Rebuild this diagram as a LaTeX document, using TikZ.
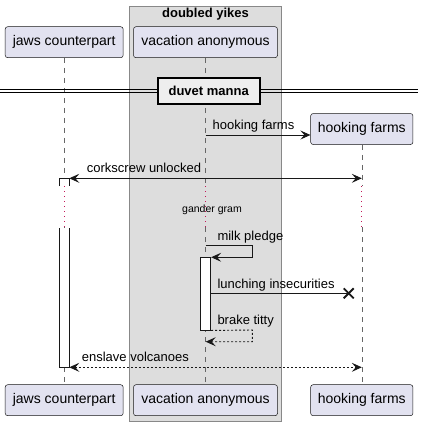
\documentclass[tikz,border=0pt]{standalone}
\usepackage{fontspec}
\setmainfont{Liberation Sans}
\usetikzlibrary{arrows.meta,calc}
\definecolor{partfill}{HTML}{E2E2F0}
\definecolor{partline}{HTML}{181818}
\definecolor{boxfill}{HTML}{DDDDDD}
\definecolor{boxline}{HTML}{888888}
\definecolor{divfill}{HTML}{EEEEEE}
\definecolor{delaycol}{HTML}{C21858}
\definecolor{lifecol}{HTML}{666666}
\begin{document}
\begin{tikzpicture}[x=1pt,y=-1pt,
  part/.style={draw=partline, line width=0.5pt, fill=partfill, rounded corners=2.5pt,
    minimum height=31pt, inner sep=0pt, font=\fontsize{14}{16}\selectfont},
  life/.style={draw=lifecol, line width=0.6pt, dash pattern=on 5pt off 5pt},
  delayline/.style={draw=delaycol, line width=1pt, dash pattern=on 1pt off 4pt},
  msg/.style={draw=partline, line width=0.9pt, -{Stealth[length=10pt,width=9pt,inset=4pt]}},
  dmsg/.style={msg, dash pattern=on 2pt off 2pt},
  lbl/.style={anchor=base west, inner sep=0pt, font=\fontsize{13}{15}\selectfont},
  act/.style={draw=partline, line width=0.9pt, fill=white, minimum width=10.4pt, inner sep=0pt},
  divbox/.style={draw=black, line width=1.6pt, fill=divfill, minimum width=102pt, minimum height=26pt,
    inner sep=0pt, font=\bfseries\fontsize{13}{15}\selectfont}
]
\useasboundingbox (0,0) rectangle (424,426);
\fill[white] (0,0) rectangle (424,426);

% group box
\draw[draw=boxline, line width=0.9pt, fill=boxfill] (129.5,6.5) rectangle (281.5,421);
\node[anchor=base, inner sep=0pt, font=\bfseries\fontsize{13}{15}\selectfont] (gtitle) at (205.5,17.5) {doubled yikes};

% participants
\node[part, minimum width=118pt] (pjt) at (64.2,42.2) {jaws counterpart};
\node[part, minimum width=144pt] (pvt) at (205.5,42.2) {vacation anonymous};
\node[part, minimum width=102.3pt] (phf) at (361.8,129) {hooking farms};
\node[part, minimum width=118pt] (pjb) at (64.2,400.2) {jaws counterpart};
\node[part, minimum width=144pt] (pvb) at (205.5,400.2) {vacation anonymous};
\node[part, minimum width=102.3pt] (phb) at (361.8,400.2) {hooking farms};

% delay bounds
\coordinate (dtop) at (0,186);
\coordinate (dbot) at (0,227);

% lifelines
\draw[life] (pjt.south) -- (pjt.south |- dtop);
\draw[delayline] (pjt.south |- dtop) -- (pjt.south |- dbot);
\draw[life] (pjt.south |- dbot) -- (pjb.north);
\draw[life] (pvt.south) -- (pvt.south |- dtop);
\draw[delayline] (pvt.south |- dtop) -- (pvt.south |- dbot);
\draw[life] (pvt.south |- dbot) -- (pvb.north);
\draw[life] (phf.south) -- (phf.south |- dtop);
\draw[delayline] (phf.south |- dtop) -- (phf.south |- dbot);
\draw[life] (phf.south |- dbot) -- (phb.north);

% divider
\draw[line width=0.8pt] (0,89.5) -- (418,89.5);
\draw[line width=0.8pt] (0,92.5) -- (418,92.5);
\node[divbox] (div) at (208.7,91) {duvet manna};

% create message
\coordinate (m1s) at (205.7,135);
\draw[msg] (m1s) -- (phf.west |- m1s);
\node[lbl] (l1) at (212.5,129.5) {hooking farms};

% jaws activation bar (broken by delay)
\fill[white] (59.3,178.3) rectangle (69.3,186);
\fill[white] (59.3,228.3) rectangle (69.3,367.3);
\draw[draw=partline, line width=0.9pt] (59.3,186) -- (59.3,178.3) -- (69.3,178.3) -- (69.3,186);
\draw[draw=partline, line width=0.9pt] (59.3,228.3) -- (59.3,367.3) -- (69.3,367.3) -- (69.3,228.3);

% corkscrew unlocked
\coordinate (m2a) at (69.3,178.3);
\coordinate (m2b) at (phf.south |- m2a);
\draw[msg, {Stealth[length=10pt,width=9pt,inset=4pt]}-{Stealth[length=10pt,width=9pt,inset=4pt]}] (m2a) -- (m2b);
\node[lbl] (l2) at (86.7,172.3) {corkscrew unlocked};

% delay text
\node[anchor=base, inner sep=0pt, font=\fontsize{10.5}{12}\selectfont] (gg) at (212,212) {gander gram};

% vacation activation
\node[act, minimum height=72.3pt] (av) at (205.5,293.85) {};

% milk pledge
\coordinate (m3s) at (205.7,245.7);
\draw[msg] (m3s) -- (252.3,245.7) |- (av.north east);
\node[lbl] (l3) at (217.3,240.5) {milk pledge};

% lunching insecurities
\coordinate (m4e) at (348.7,293.3);
\draw[draw=partline, line width=0.9pt] (av.east |- m4e) -- (m4e);
\draw[draw=partline, line width=1.8pt] ($(m4e)+(-5,-5)$) -- ($(m4e)+(5,5)$);
\draw[draw=partline, line width=1.8pt] ($(m4e)+(-5,5)$) -- ($(m4e)+(5,-5)$);
\node[lbl] (l4) at (217.3,288) {lunching insecurities};

% brake titty
\coordinate (m5e) at (205.7,341.7);
\draw[dmsg] (av.south east) -- (252.3,330) |- (m5e);
\node[lbl] (l5) at (217.3,324) {brake titty};

% enslave volcanoes
\coordinate (m6a) at (69.3,367.3);
\coordinate (m6b) at (phf.south |- m6a);
\draw[dmsg, {Stealth[length=10pt,width=9pt,inset=4pt]}-{Stealth[length=10pt,width=9pt,inset=4pt]}] (m6a) -- (m6b);
\node[lbl] (l6) at (81.7,361.3) {enslave volcanoes};
\end{tikzpicture}
\end{document}
